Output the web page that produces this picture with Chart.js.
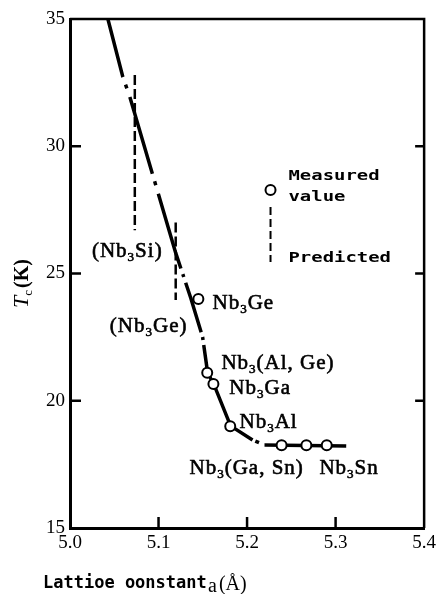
<!DOCTYPE html>
<html>
<head>
<meta charset="utf-8">
<script src="https://cdn.jsdelivr.net/npm/chart.js@4.4.1/dist/chart.umd.min.js"></script>
<style>
  html, body { margin: 0; padding: 0; background: #fff; }
  canvas { display: block; }
</style>
</head>
<body>
<canvas id="c" width="440" height="594"></canvas>
<script>
// Tc versus lattice constant a for A15 Nb3X compounds

const xTicks = [5.0, 5.1, 5.2, 5.3, 5.4];
const yTicks = [15, 20, 25, 30, 35];

// measured compounds (open circles)
const measuredA  = [5.145, 5.155, 5.162, 5.181, 5.239, 5.267, 5.290];
const measuredTc = [24.0, 21.1, 20.66, 19.0, 18.25, 18.25, 18.25];

// empirical Tc(a) curve
const curveA  = [5.0428, 5.0597, 5.0676, 5.0935, 5.1194, 5.1364, 5.1498, 5.1555, 5.1623, 5.1814, 5.2062, 5.2197, 5.3120];
const curveTc = [35.0, 32.72, 31.94, 28.87, 25.81, 24.04, 22.50, 21.09, 20.66, 19.01, 18.46, 18.26, 18.22];

// predicted compounds (dashed Tc ranges)
const predSiA  = 5.0732;
const predSiTc = [32.8, 26.7];
const predGeA  = 5.1194;
const predGeTc = [27.0, 23.96];

// compound labels ("_3" marks a subscript)
const labelText = ['Nb_3Ge', 'Nb_3(Al, Ge)', 'Nb_3Ga', 'Nb_3Al', 'Nb_3(Ga, Sn)', 'Nb_3Sn', '(Nb_3Si)', '(Nb_3Ge)'];
const labelA    = [5.161, 5.171, 5.180, 5.1915, 5.135, 5.2817, 5.0248, 5.045];
const labelTc   = [23.88, 21.52, 20.54, 19.20, 17.40, 17.40, 25.92, 22.98];

// key entries
const keyA = 5.2265;
const keyCircleTc = 28.28;
const keyDashTc = [27.61, 25.45];
const keyTextA = 5.2468;
const keyText = ['Measured', 'value', 'Predicted'];
const keyTextTc = [28.83, 28.0, 25.61];

const SERIF = '"Liberation Serif", "DejaVu Serif", serif';
const MONO = '"DejaVu Sans Mono", "Liberation Mono", monospace';

const topDash = [60, 8, 4, 9, 80, 8, 4, 9, 78, 6, 3, 6, 52, 5, 3, 5];
const gapDot = [0, 3, 4, 6];

function pts(xs, ys) { return xs.map((x, i) => ({ x: x, y: ys[i] })); }

// text with subscript digits: "Nb_3Ge"
function drawRich(ctx, str, x, cy, size) {
  ctx.save();
  ctx.fillStyle = '#000';
  ctx.strokeStyle = '#000';
  ctx.lineWidth = 0.6;
  ctx.textAlign = 'left';
  ctx.textBaseline = 'alphabetic';
  try { ctx.letterSpacing = '1px'; } catch (e) {}
  const base = cy + size * 0.33;
  let px = x;
  let i = 0;
  while (i < str.length) {
    if (str[i] === '_') {
      ctx.font = Math.round(size * 0.6) + 'px ' + SERIF;
      ctx.fillText(str[i + 1], px, base + size * 0.18);
      ctx.strokeText(str[i + 1], px, base + size * 0.18);
      px += ctx.measureText(str[i + 1]).width;
      i += 2;
    } else {
      let j = i;
      while (j < str.length && str[j] !== '_') j++;
      const chunk = str.slice(i, j);
      ctx.font = size + 'px ' + SERIF;
      ctx.fillText(chunk, px, base);
      ctx.strokeText(chunk, px, base);
      px += ctx.measureText(chunk).width;
      i = j;
    }
  }
  ctx.restore();
}

function wideMono(ctx, text, x, cy, size, stretch) {
  ctx.save();
  ctx.fillStyle = '#000';
  ctx.font = 'bold ' + size + 'px ' + MONO;
  ctx.textAlign = 'left';
  ctx.textBaseline = 'middle';
  ctx.translate(x, cy);
  ctx.scale(stretch, 1);
  ctx.fillText(text, 0, 0);
  ctx.restore();
}

const decorations = {
  id: 'decorations',
  afterDatasetsDraw(chart) {
    const ctx = chart.ctx;
    const xs = chart.scales.x, ys = chart.scales.y;
    const a = chart.chartArea;

    ctx.save();
    ctx.strokeStyle = '#000';
    ctx.lineCap = 'butt';

    // top and right frame
    ctx.lineWidth = 2.5;
    ctx.beginPath();
    ctx.moveTo(a.left, a.top);
    ctx.lineTo(a.right, a.top);
    ctx.lineTo(a.right, a.bottom);
    ctx.stroke();

    // inward tick marks
    ctx.lineWidth = 2.5;
    yTicks.slice(1, -1).forEach(v => {
      const py = ys.getPixelForValue(v);
      ctx.beginPath();
      ctx.moveTo(a.left, py); ctx.lineTo(a.left + 11, py);
      ctx.moveTo(a.right, py); ctx.lineTo(a.right - 9, py);
      ctx.stroke();
    });
    xTicks.slice(1, -1).forEach(v => {
      const px = xs.getPixelForValue(v);
      ctx.beginPath();
      ctx.moveTo(px, a.bottom); ctx.lineTo(px, a.bottom - 11);
      ctx.stroke();
    });

    // key
    const kx = xs.getPixelForValue(keyA);
    ctx.lineWidth = 2;
    ctx.fillStyle = '#fff';
    ctx.beginPath();
    ctx.arc(kx, ys.getPixelForValue(keyCircleTc), 5, 0, Math.PI * 2);
    ctx.fill(); ctx.stroke();
    ctx.setLineDash([8, 4]);
    ctx.beginPath();
    ctx.moveTo(kx, ys.getPixelForValue(keyDashTc[0]));
    ctx.lineTo(kx, ys.getPixelForValue(keyDashTc[1]));
    ctx.stroke();
    ctx.setLineDash([]);
    ctx.restore();

    const tx = xs.getPixelForValue(keyTextA);
    keyText.forEach((t, i) => wideMono(ctx, t, tx, ys.getPixelForValue(keyTextTc[i]), 14, 1.35));

    // compound labels
    labelText.forEach((t, i) => {
      drawRich(ctx, t, xs.getPixelForValue(labelA[i]), ys.getPixelForValue(labelTc[i]), 21);
    });

    // y-axis title: Tc (K)
    ctx.save();
    ctx.fillStyle = '#000';
    ctx.translate(21, (a.top + a.bottom) / 2 + 10);
    ctx.rotate(-Math.PI / 2);
    ctx.textBaseline = 'alphabetic';
    ctx.textAlign = 'left';
    const parts = [
      { t: 'T', f: 'italic 22px ' + SERIF, dy: 0 },
      { t: 'c', f: '13px ' + SERIF, dy: 4 },
      { t: '(K)', f: 'bold 20px ' + SERIF, dy: 0 }
    ];
    let total = 0;
    parts.forEach(p => { ctx.font = p.f; p.w = ctx.measureText(p.t).width + (p.t === 'c' ? 2 : 0); total += p.w; });
    let px = -total / 2;
    parts.forEach(p => { ctx.font = p.f; ctx.fillText(p.t, px, 7 + p.dy); px += p.w; });
    ctx.restore();

    // x-axis title
    wideMono(ctx, 'Lattioe oonstant', 43, 584, 17, 1.0);
    ctx.save();
    ctx.fillStyle = '#000';
    ctx.textBaseline = 'alphabetic';
    ctx.textAlign = 'left';
    ctx.font = '20px ' + SERIF;
    ctx.fillText('a', 208, 592);
    const aw = ctx.measureText('a').width;
    ctx.fillText('(Å)', 208 + aw + 2, 590);
    ctx.restore();
  }
};

new Chart(document.getElementById('c'), {
  type: 'scatter',
  data: {
    datasets: [
      {
        label: 'Measured value',
        data: pts(measuredA, measuredTc),
        pointRadius: 5,
        pointBorderWidth: 2,
        pointBackgroundColor: '#fff',
        pointBorderColor: '#000',
        showLine: false
      },
      {
        label: 'Tc curve',
        data: pts(curveA, curveTc),
        showLine: true,
        pointRadius: 0,
        borderColor: '#000',
        borderWidth: 3.5,
        borderCapStyle: 'butt',
        tension: 0,
        segment: {
          borderDash: c => c.p0DataIndex < 7 ? topDash : (c.p0DataIndex === 10 ? gapDot : undefined)
        }
      },
      {
        label: 'Predicted Nb3Si',
        data: pts([predSiA, predSiA], predSiTc),
        showLine: true,
        pointRadius: 0,
        borderColor: '#000',
        borderWidth: 2.5,
        borderDash: [10, 4]
      },
      {
        label: 'Predicted Nb3Ge',
        data: pts([predGeA, predGeA], predGeTc),
        showLine: true,
        pointRadius: 0,
        borderColor: '#000',
        borderWidth: 2.5,
        borderDash: [10, 4]
      }
    ]
  },
  options: {
    responsive: false,
    animation: false,
    events: [],
    layout: { padding: { top: 19, right: 15, left: 0, bottom: 0 } },
    plugins: { legend: { display: false }, tooltip: { enabled: false } },
    scales: {
      x: {
        type: 'linear',
        min: 5.0,
        max: 5.4,
        afterBuildTicks: s => { s.ticks = xTicks.map(v => ({ value: v })); },
        afterFit: s => { s.height = 66; },
        ticks: {
          callback: v => Number(v).toFixed(1),
          color: '#000',
          font: { family: SERIF, size: 19 },
          padding: 4,
          maxRotation: 0,
          autoSkip: false
        },
        grid: { display: false, drawTicks: false },
        border: { display: true, color: '#000', width: 3 }
      },
      y: {
        type: 'linear',
        min: 15,
        max: 35,
        afterBuildTicks: s => { s.ticks = yTicks.map(v => ({ value: v })); },
        afterFit: s => { s.width = 70; },
        ticks: {
          callback: v => String(v),
          color: '#000',
          font: { family: SERIF, size: 19 },
          padding: 5,
          autoSkip: false
        },
        grid: { display: false, drawTicks: false },
        border: { display: true, color: '#000', width: 3 }
      }
    }
  },
  plugins: [decorations]
});
</script>
</body>
</html>
